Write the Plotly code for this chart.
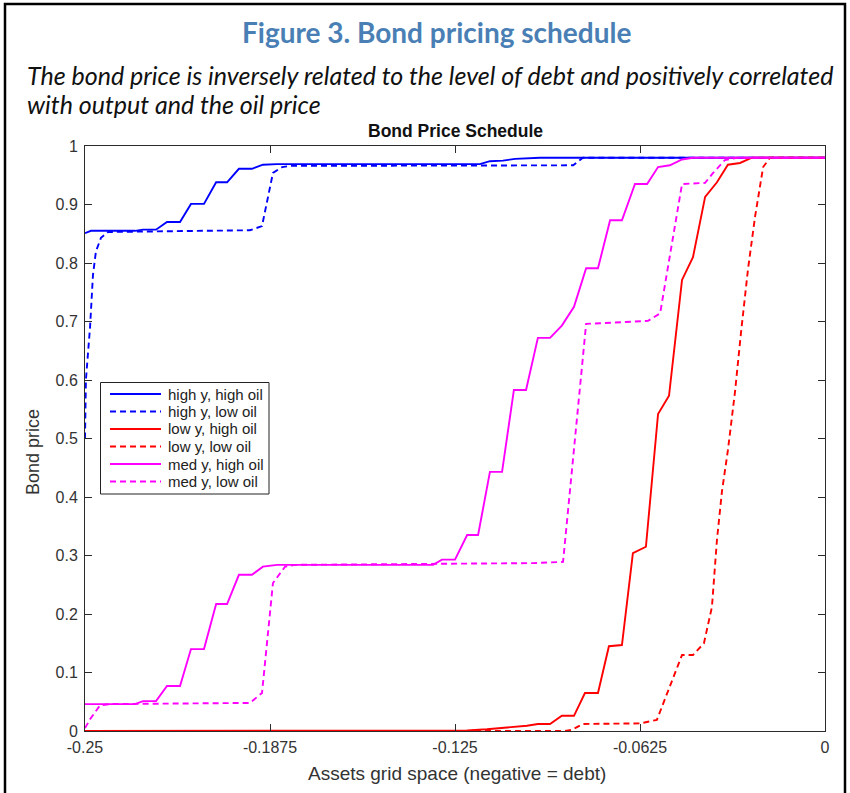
import plotly.graph_objects as go

# ---- data ----
x_tickvals = [-0.25, -0.1875, -0.125, -0.0625, 0]
x_ticktext = ["-0.25", "-0.1875", "-0.125", "-0.0625", "0"]
y_tickvals = [0, 0.1, 0.2, 0.3, 0.4, 0.5, 0.6, 0.7, 0.8, 0.9, 1]
y_ticktext = ["0", "0.1", "0.2", "0.3", "0.4", "0.5", "0.6", "0.7", "0.8", "0.9", "1"]

series_names = ["high y, high oil", "high y, low oil", "low y, high oil",
                "low y, low oil", "med y, high oil", "med y, low oil"]

hy_ho_x = [-0.25, -0.248, -0.2331, -0.2304, -0.2260, -0.2223, -0.2179, -0.2142, -0.2098, -0.2057,
           -0.2020, -0.1980, -0.1936, -0.1899, -0.1851, -0.1166, -0.1132, -0.1088, -0.1047, -0.0963, 0]
hy_ho_y = [0.851, 0.855, 0.855, 0.857, 0.857, 0.870, 0.870, 0.901, 0.901, 0.938,
           0.938, 0.961, 0.961, 0.968, 0.969, 0.969, 0.974, 0.975, 0.978, 0.980, 0.980]

hy_lo_x = [-0.25, -0.2497, -0.2483, -0.2473, -0.2463, -0.2446, -0.2422, -0.1943, -0.1902, -0.1865,
           -0.1834, -0.1807, -0.0851, -0.0818, 0]
hy_lo_y = [0.50, 0.60, 0.69, 0.78, 0.82, 0.843, 0.853, 0.856, 0.863, 0.954,
           0.964, 0.966, 0.967, 0.980, 0.980]

ly_ho_x = [-0.25, -0.125, -0.1209, -0.1142, -0.1098, -0.1054, -0.1007, -0.0970, -0.0929, -0.0889,
           -0.0848, -0.0811, -0.0767, -0.0730, -0.0686, -0.0649, -0.0605, -0.0564, -0.0527, -0.0483,
           -0.0446, -0.0405, -0.0365, -0.0328, -0.0287, -0.0247, 0]
ly_ho_y = [0, 0, 0.001, 0.003, 0.005, 0.007, 0.009, 0.012, 0.012, 0.026,
           0.026, 0.065, 0.065, 0.145, 0.147, 0.304, 0.315, 0.542, 0.573, 0.771,
           0.810, 0.913, 0.938, 0.968, 0.971, 0.980, 0.980]

ly_lo_x = [-0.25, -0.0878, -0.0855, -0.0818, -0.0625, -0.0568, -0.0483, -0.0446, -0.0409, -0.0382,
           -0.0365, -0.0348, -0.0328, -0.0304, -0.0284, -0.0260, -0.0236, -0.0209, -0.0186, 0]
ly_lo_y = [0, 0, 0.002, 0.012, 0.013, 0.019, 0.130, 0.130, 0.150, 0.212,
           0.327, 0.410, 0.480, 0.580, 0.680, 0.790, 0.880, 0.964, 0.980, 0.980]

my_ho_x = [-0.25, -0.2331, -0.2304, -0.2260, -0.2223, -0.2179, -0.2142, -0.2098, -0.2057, -0.2020,
           -0.1980, -0.1936, -0.1899, -0.1851, -0.1324, -0.1294, -0.1250, -0.1209, -0.1172, -0.1132,
           -0.1091, -0.1051, -0.1010, -0.0970, -0.0929, -0.0889, -0.0848, -0.0807, -0.0767, -0.0726,
           -0.0686, -0.0642, -0.0601, -0.0564, -0.0524, -0.0483, -0.0446, 0]
my_ho_y = [0.046, 0.046, 0.051, 0.051, 0.077, 0.077, 0.140, 0.140, 0.217, 0.217,
           0.267, 0.267, 0.281, 0.284, 0.284, 0.293, 0.293, 0.335, 0.335, 0.443,
           0.443, 0.583, 0.583, 0.672, 0.672, 0.693, 0.725, 0.791, 0.791, 0.873,
           0.873, 0.935, 0.935, 0.964, 0.967, 0.977, 0.980, 0.980]

my_lo_x = [-0.25, -0.2483, -0.2449, -0.2416, -0.1943, -0.1902, -0.1865, -0.1824, -0.1791, -0.0986,
           -0.0885, -0.0807, -0.0760, -0.0598, -0.0557, -0.0483, -0.0405, -0.0378, -0.0338, -0.0297, 0]
my_lo_y = [0.005, 0.02, 0.044, 0.046, 0.048, 0.065, 0.253, 0.281, 0.284, 0.287,
           0.289, 0.696, 0.697, 0.701, 0.714, 0.935, 0.937, 0.954, 0.976, 0.980, 0.980]

# ---- layout geometry (pixels of the 850x793 canvas) ----
W, H = 850, 793
PL, PR, PT, PB = 85, 825, 146, 731      # plot area edges


def px(x):
    return (x - PL) / (PR - PL)


def py(y):
    return (PB - y) / (PB - PT)


# ---- styles ----
BLUE, RED, MAG = "#0000ff", "#ff0000", "#ff00ff"
DASH = "6px,4px"
xs = [hy_ho_x, hy_lo_x, ly_ho_x, ly_lo_x, my_ho_x, my_lo_x]
ys = [hy_ho_y, hy_lo_y, ly_ho_y, ly_lo_y, my_ho_y, my_lo_y]
colors = [BLUE, BLUE, RED, RED, MAG, MAG]
dashes = ["solid", DASH, "solid", DASH, "solid", DASH]
HELV = "Liberation Sans, Arial, sans-serif"

fig = go.Figure()
for name, x, y, c, d in zip(series_names, xs, ys, colors, dashes):
    fig.add_trace(go.Scatter(x=x, y=y, mode="lines", name=name, showlegend=False,
                             line=dict(color=c, width=1.9, dash=d)))

AX = "#2b2b2b"
TICKFONT = dict(family=HELV, size=16, color="#333333")
fig.update_xaxes(range=[-0.25, 0], tickvals=x_tickvals, ticktext=x_ticktext,
                 ticks="inside", ticklen=7, tickcolor=AX, showline=True, linecolor=AX,
                 linewidth=1, mirror="ticks", showgrid=False, zeroline=False,
                 tickfont=TICKFONT, ticklabelstandoff=2)
fig.update_yaxes(range=[0, 1], tickvals=y_tickvals, ticktext=y_ticktext,
                 ticks="inside", ticklen=7, tickcolor=AX, showline=True, linecolor=AX,
                 linewidth=1, mirror="ticks", showgrid=False, zeroline=False,
                 tickfont=TICKFONT, ticklabelstandoff=3)

fig.update_layout(
    width=W, height=H,
    margin=dict(l=PL, r=W - PR, t=PT, b=H - PB),
    paper_bgcolor="white", plot_bgcolor="white",
    showlegend=False,
)

ann = [
    dict(text="<b>Figure 3. Bond pricing schedule</b>", x=px(436), y=py(32), xref="paper", yref="paper",
         xanchor="center", yanchor="middle", showarrow=False,
         font=dict(family="Lato, Open Sans, sans-serif", size=28, color="#4a7fb5")),
    dict(text="<i>The bond price is inversely related to the level of debt and positively correlated</i>",
         x=px(25), y=py(75), xref="paper", yref="paper", xanchor="left", yanchor="middle",
         showarrow=False, font=dict(family="Lato, Open Sans, sans-serif", size=25, color="#111111")),
    dict(text="<i>with output and the oil price</i>",
         x=px(25), y=py(104), xref="paper", yref="paper", xanchor="left", yanchor="middle",
         showarrow=False, font=dict(family="Lato, Open Sans, sans-serif", size=25, color="#111111")),
    dict(text="<b>Bond Price Schedule</b>", x=px(455), y=py(131), xref="paper", yref="paper",
         xanchor="center", yanchor="middle", showarrow=False,
         font=dict(family=HELV, size=17.5, color="#111111")),
    dict(text="Bond price", x=px(33), y=py(452), xref="paper", yref="paper", textangle=-90,
         xanchor="center", yanchor="middle", showarrow=False,
         font=dict(family=HELV, size=18, color="#333333")),
    dict(text="Assets grid space (negative = debt)", x=px(457), y=py(773), xref="paper", yref="paper",
         xanchor="center", yanchor="middle", showarrow=False,
         font=dict(family=HELV, size=19, color="#333333")),
]

# ---- legend (drawn as a boxed key inside the plot, like MATLAB's) ----
LEG_BOX = (100.5, 382.5, 269, 494)
LEG_ROWS = [394, 411.5, 429, 446.5, 464, 481.5]
LEG_LINE = (110, 161)
LEG_TEXT_X = 166
shapes = [dict(type="rect", xref="paper", yref="paper",
               x0=px(LEG_BOX[0]), x1=px(LEG_BOX[2]), y0=py(LEG_BOX[3]), y1=py(LEG_BOX[1]),
               line=dict(color="#222222", width=1), fillcolor="white", layer="above")]
for name, c, d, ry in zip(series_names, colors, dashes, LEG_ROWS):
    shapes.append(dict(type="line", xref="paper", yref="paper",
                       x0=px(LEG_LINE[0]), x1=px(LEG_LINE[1]), y0=py(ry), y1=py(ry),
                       line=dict(color=c, width=1.9, dash=d), layer="above"))
    ann.append(dict(text=name, x=px(LEG_TEXT_X), y=py(ry), xref="paper", yref="paper",
                    xanchor="left", yanchor="middle", showarrow=False,
                    font=dict(family=HELV, size=15, color="#222222")))

# outer frame around the whole figure
shapes.append(dict(type="rect", xref="paper", yref="paper",
                   x0=px(5), x1=px(845), y0=py(830), y1=py(4),
                   line=dict(color="black", width=2.5), fillcolor="rgba(0,0,0,0)", layer="above"))

fig.update_layout(annotations=ann, shapes=shapes)

fig.write_html("out.html", config={"displayModeBar": False},
               post_script="document.body.style.margin='0';")
